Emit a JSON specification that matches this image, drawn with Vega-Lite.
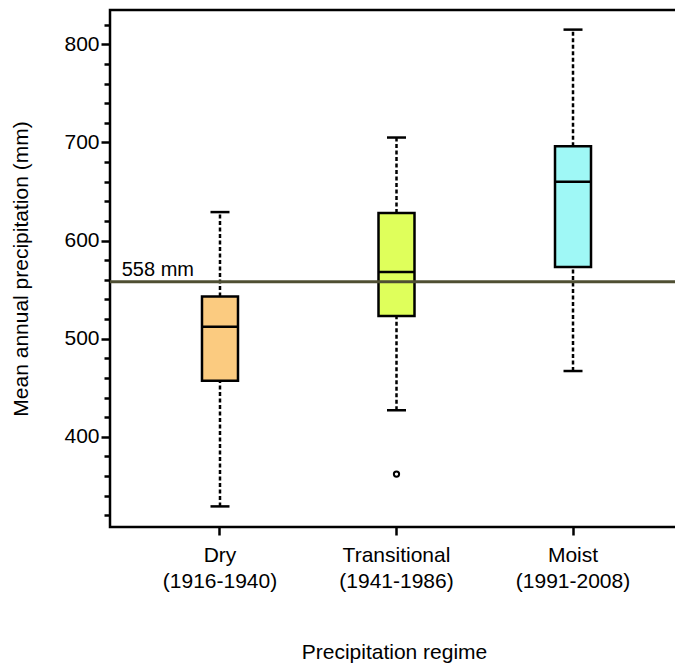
{
  "$schema": "https://vega.github.io/schema/vega-lite/v6.json",
  "width": 568,
  "height": 517,
  "autosize": {"type": "none"},
  "padding": {"left": 110, "top": 10, "right": 0, "bottom": 137},
  "background": "white",
  "config": {
    "font": "Liberation Sans",
    "view": {"stroke": "black", "strokeWidth": 2.5},
    "axis": {
      "domain": false,
      "grid": false,
      "tickColor": "black",
      "tickWidth": 2.5,
      "labelColor": "black",
      "labelFontSize": 21,
      "titleColor": "black",
      "titleFontSize": 21,
      "titleFontWeight": "normal",
      "labelFont": "Liberation Sans",
      "titleFont": "Liberation Sans"
    }
  },
  "resolve": {"axis": {"y": "independent"}},
  "datasets": {
    "boxes": [
      {"regime": "Dry\n(1916-1940)", "lower": 329, "q1": 457, "median": 512, "q3": 543, "upper": 629},
      {"regime": "Transitional\n(1941-1986)", "lower": 427, "q1": 523, "median": 568, "q3": 628, "upper": 705},
      {"regime": "Moist\n(1991-2008)", "lower": 467, "q1": 573, "median": 660, "q3": 696, "upper": 815}
    ],
    "outliers": [
      {"regime": "Transitional\n(1941-1986)", "value": 362}
    ],
    "reference": [
      {"regime": "Dry\n(1916-1940)", "value": 558, "label": "558 mm"}
    ]
  },
  "encoding": {
    "x": {
      "field": "regime",
      "type": "nominal",
      "sort": ["Dry\n(1916-1940)", "Transitional\n(1941-1986)", "Moist\n(1991-2008)"],
      "scale": {
        "type": "band",
        "domain": ["Dry\n(1916-1940)", "Transitional\n(1941-1986)", "Moist\n(1991-2008)"],
        "paddingInner": 0,
        "paddingOuter": 0.109,
        "align": 0.565
      },
      "axis": {
        "labelExpr": "split(datum.label, '\\n')",
        "labelAngle": 0,
        "labelLineHeight": 26,
        "labelPadding": 9,
        "tickSize": 8,
        "title": "Precipitation regime",
        "titlePadding": 50
      }
    }
  },
  "layer": [
    {
      "data": {"name": "boxes"},
      "mark": {"type": "rule", "color": "black", "strokeWidth": 2.5, "strokeDash": [4, 2.5]},
      "encoding": {
        "y": {
          "field": "lower",
          "type": "quantitative",
          "scale": {"domain": [308, 835], "nice": false, "zero": false},
          "axis": {
            "orient": "left",
            "values": [400, 500, 600, 700, 800],
            "tickSize": 9,
            "labelPadding": 2,
            "title": "Mean annual precipitation (mm)",
            "titlePadding": 32
          }
        },
        "y2": {"field": "q1"}
      }
    },
    {
      "data": {"name": "boxes"},
      "mark": {"type": "rule", "color": "black", "strokeWidth": 2.5, "strokeDash": [4, 2.5]},
      "encoding": {
        "y": {
          "field": "q3",
          "type": "quantitative",
          "axis": {
            "orient": "left",
            "values": [320, 340, 360, 380, 420, 440, 460, 480, 520, 540, 560, 580, 620, 640, 660, 680, 720, 740, 760, 780, 820],
            "labels": false,
            "tickSize": 6,
            "title": null
          }
        },
        "y2": {"field": "upper"}
      }
    },
    {
      "data": {"name": "boxes"},
      "mark": {"type": "tick", "color": "black", "size": 19, "thickness": 2.5, "opacity": 1},
      "encoding": {
        "y": {"field": "lower", "type": "quantitative", "axis": null}
      }
    },
    {
      "data": {"name": "boxes"},
      "mark": {"type": "tick", "color": "black", "size": 19, "thickness": 2.5, "opacity": 1},
      "encoding": {
        "y": {"field": "upper", "type": "quantitative", "axis": null}
      }
    },
    {
      "data": {"name": "boxes"},
      "mark": {"type": "bar", "size": 36, "stroke": "black", "strokeWidth": 2.5, "opacity": 1},
      "encoding": {
        "y": {"field": "q1", "type": "quantitative", "axis": null},
        "y2": {"field": "q3"},
        "fill": {
          "field": "regime",
          "type": "nominal",
          "scale": {
            "domain": ["Dry\n(1916-1940)", "Transitional\n(1941-1986)", "Moist\n(1991-2008)"],
            "range": ["#FBCB80", "#DFFF5B", "#9FF8F6"]
          },
          "legend": null
        }
      }
    },
    {
      "data": {"name": "boxes"},
      "mark": {"type": "tick", "color": "black", "size": 36, "thickness": 2.5, "opacity": 1},
      "encoding": {
        "y": {"field": "median", "type": "quantitative", "axis": null}
      }
    },
    {
      "data": {"name": "outliers"},
      "mark": {"type": "point", "filled": false, "stroke": "black", "strokeWidth": 2, "size": 28, "opacity": 1},
      "encoding": {
        "y": {"field": "value", "type": "quantitative", "axis": null}
      }
    },
    {
      "data": {"name": "reference"},
      "mark": {"type": "rule", "color": "#4F4F33", "strokeWidth": 3},
      "encoding": {
        "x": null,
        "y": {"field": "value", "type": "quantitative", "axis": null}
      }
    },
    {
      "data": {"name": "reference"},
      "mark": {"type": "text", "align": "left", "baseline": "bottom", "fontSize": 20, "color": "black", "dx": -10, "dy": -2},
      "encoding": {
        "x": {"field": "regime", "type": "nominal", "bandPosition": 0},
        "y": {"field": "value", "type": "quantitative", "axis": null},
        "text": {"field": "label"}
      }
    }
  ]
}
